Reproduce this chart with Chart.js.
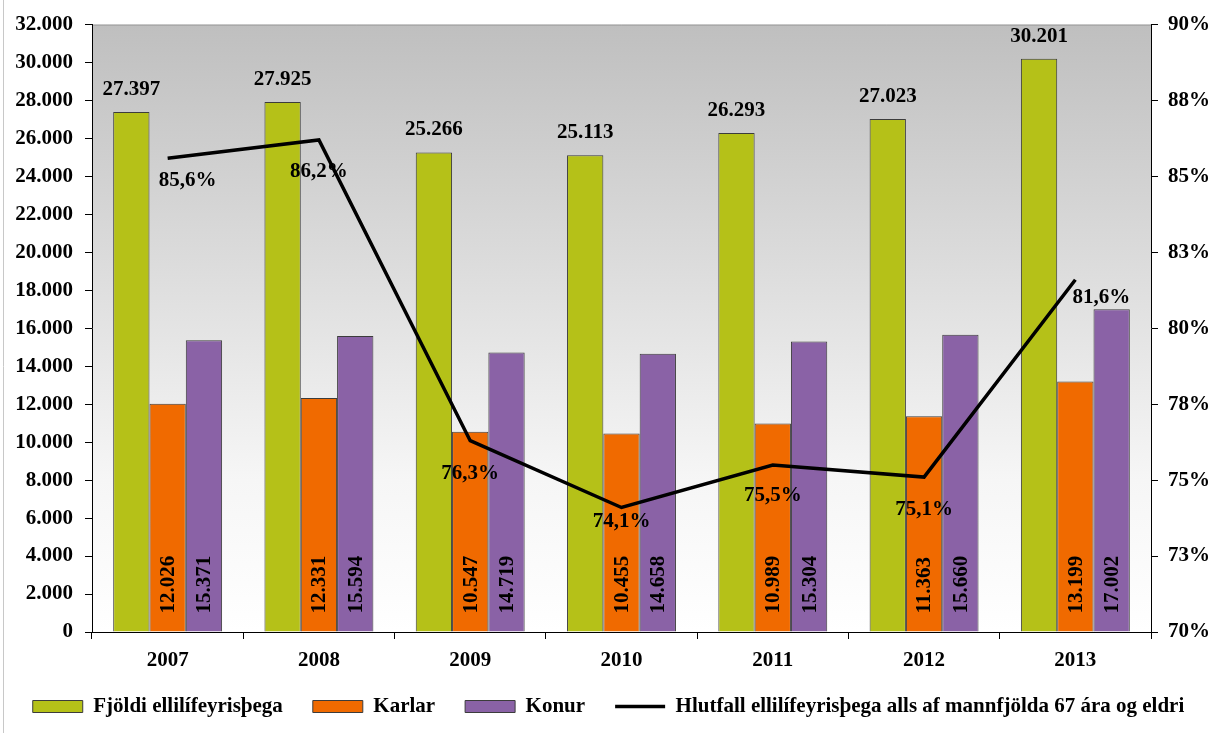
<!DOCTYPE html>
<html>
<head>
<meta charset="utf-8">
<title>Ellilífeyrisþegar 2007-2013</title>
<script src="https://cdn.jsdelivr.net/npm/chart.js@4"></script>
<style>
    html, body { margin: 0; padding: 0; background: #fff; }
    canvas { display: block; }
</style>
</head>
<body>
<canvas id="pension-chart" width="1217" height="733"></canvas>
<script>

const years = ["2007", "2008", "2009", "2010", "2011", "2012", "2013"];
const total_pensioners = [27397, 27925, 25266, 25113, 26293, 27023, 30201];
const men = [12026, 12331, 10547, 10455, 10989, 11363, 13199];
const women = [15371, 15594, 14719, 14658, 15304, 15660, 17002];
const share_of_67plus = [85.6, 86.2, 76.3, 74.1, 75.5, 75.1, 81.6];

const font_family = "'Liberation Serif', 'Times New Roman', serif";

// thousands separator with a dot, like the original
function fmt_thousands(v) {
    return String(Math.round(v)).replace(/\B(?=(\d{3})+(?!\d))/g, ".");
}

// gradient plot background + thin grey edge on the left
const background_plugin = {
    id: "plotBackground",
    beforeDraw(chart) {
        const { ctx, chartArea } = chart;
        if (!chartArea) return;
        ctx.save();
        const grad = ctx.createLinearGradient(0, chartArea.top, 0, chartArea.bottom);
        grad.addColorStop(0, "#bfbfbf");
        grad.addColorStop(0.75, "#f6f6f6");
        grad.addColorStop(1, "#ffffff");
        ctx.fillStyle = grad;
        ctx.fillRect(chartArea.left, chartArea.top, chartArea.right - chartArea.left, chartArea.bottom - chartArea.top);

        ctx.strokeStyle = "#9a9a9a";
        ctx.lineWidth = 1;
        ctx.beginPath();
        ctx.moveTo(chartArea.left, chartArea.top + 0.5);
        ctx.lineTo(chartArea.right, chartArea.top + 0.5);
        ctx.stroke();

        ctx.strokeStyle = "#c8c8c8";
        ctx.beginPath();
        ctx.moveTo(3.5, 0);
        ctx.lineTo(3.5, chart.height);
        ctx.stroke();
        ctx.restore();
    }
};

// value labels (no datalabels plugin available offline)
const line_label_nudge = [[20, 22], [0, 32], [0, 33], [0, 14], [0, 31], [0, 32], [26, 18]];

const labels_plugin = {
    id: "valueLabels",
    afterDatasetsDraw(chart) {
        const ctx = chart.ctx;
        ctx.save();
        ctx.fillStyle = "#000";
        ctx.font = `bold 21px ${font_family}`;

        // totals above the green bars
        chart.getDatasetMeta(0).data.forEach((bar, i) => {
            ctx.textAlign = "center";
            ctx.textBaseline = "bottom";
            ctx.fillText(fmt_thousands(total_pensioners[i]), bar.x, bar.y - 12);
        });

        // men / women written upwards inside the bars
        [1, 2].forEach((ds) => {
            const values = ds === 1 ? men : women;
            chart.getDatasetMeta(ds).data.forEach((bar, i) => {
                ctx.save();
                ctx.translate(bar.x, bar.base - 18);
                ctx.rotate(-Math.PI / 2);
                ctx.textAlign = "left";
                ctx.textBaseline = "middle";
                ctx.fillText(fmt_thousands(values[i]), 0, 1);
                ctx.restore();
            });
        });

        // percentages under the line
        chart.getDatasetMeta(3).data.forEach((pt, i) => {
            ctx.textAlign = "center";
            ctx.textBaseline = "middle";
            const n = line_label_nudge[i];
            ctx.fillText(share_of_67plus[i].toFixed(1).replace(".", ",") + "%", pt.x + n[0], pt.y + n[1]);
        });
        ctx.restore();
    }
};

window.addEventListener("DOMContentLoaded", () => {

    const canvas = document.getElementById("pension-chart");

    const chart_data = {
        labels: years,
        datasets: [{
            type: "bar",
            label: "Fjöldi ellilífeyrisþega",
            data: total_pensioners,
            backgroundColor: "#b5c118",
            borderColor: "#3c3c3c",
            borderWidth: 1,
            pointStyle: "rect",
            yAxisID: "y",
            order: 1
        },
        {
            type: "bar",
            label: "Karlar",
            data: men,
            backgroundColor: "#f06a00",
            borderColor: "#3c3c3c",
            borderWidth: 1,
            pointStyle: "rect",
            yAxisID: "y",
            order: 1
        },
        {
            type: "bar",
            label: "Konur",
            data: women,
            backgroundColor: "#8a62a6",
            borderColor: "#3c3c3c",
            borderWidth: 1,
            pointStyle: "rect",
            yAxisID: "y",
            order: 1
        },
        {
            type: "line",
            label: "Hlutfall ellilífeyrisþega alls af mannfjölda 67 ára og eldri",
            data: share_of_67plus,
            borderColor: "#000",
            backgroundColor: "#000",
            borderWidth: 3.5,
            pointRadius: 0,
            pointStyle: "line",
            tension: 0,
            yAxisID: "y1",
            order: 0
        }]
    };

    const tick_font = { family: font_family, size: 21, weight: "bold" };

    const config = {
        data: chart_data,
        options: {
            responsive: false,
            animation: false,
            layout: {
                padding: { top: 23, bottom: 6, left: 0, right: 0 }
            },
            datasets: {
                bar: { categoryPercentage: 0.72, barPercentage: 1.0 }
            },
            plugins: {
                tooltip: { enabled: false },
                legend: {
                    position: "bottom",
                    labels: {
                        usePointStyle: true,
                        pointStyleWidth: 50,
                        boxHeight: 12,
                        padding: 30,
                        color: "#000",
                        font: tick_font,
                        sort: (a, b) => a.datasetIndex - b.datasetIndex
                    }
                }
            },
            scales: {
                x: {
                    offset: true,
                    grid: {
                        offset: true,
                        drawOnChartArea: false,
                        tickLength: 7,
                        color: "#000"
                    },
                    border: { color: "#000" },
                    ticks: { color: "#000", font: tick_font, padding: 9 },
                    afterFit: (scale) => { scale.height = 34; }
                },
                y: {
                    position: "left",
                    min: 0,
                    max: 32000,
                    ticks: {
                        stepSize: 2000,
                        color: "#000",
                        font: tick_font,
                        padding: 12,
                        callback: (v) => fmt_thousands(v)
                    },
                    grid: { drawOnChartArea: false, tickLength: 7, color: "#000" },
                    border: { color: "#000" },
                    afterFit: (scale) => { scale.width = 92; }
                },
                y1: {
                    position: "right",
                    min: 70,
                    max: 90,
                    ticks: {
                        stepSize: 2.5,
                        color: "#000",
                        font: tick_font,
                        padding: 10,
                        callback: (v) => Math.round(v) + "%"
                    },
                    grid: { drawOnChartArea: false, tickLength: 7, color: "#000" },
                    border: { color: "#000" },
                    afterFit: (scale) => { scale.width = 66; }
                }
            }
        },
        plugins: [background_plugin, labels_plugin]
    };

    new Chart(canvas.getContext("2d"), config);
});
</script>
</body>
</html>
